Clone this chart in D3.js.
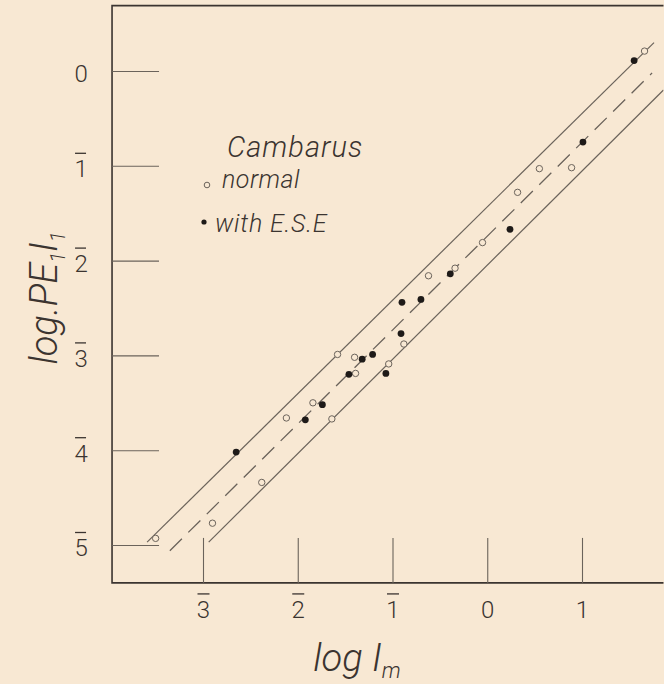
<!DOCTYPE html>
<html><head><meta charset="utf-8">
<script src="https://cdn.jsdelivr.net/npm/d3@7"></script>
<style>
body{margin:0;background:#f8e8d3;}
svg{display:block;}
</style>
</head><body>
<svg id="c" width="664" height="684"></svg>
<script>
// tick values (negative characteristics drawn with bar notation)
const yTicks = [0, -1, -2, -3, -4, -5];
const xTicks = [-3, -2, -1, 0, 1];

// "normal" (open circles)
const normalX = [-3.50, -2.90, -2.38, -2.12, -1.84, -1.64, -1.58, -1.40, -1.39, -1.04, -0.88, -0.62, -0.34, -0.05, 0.32, 0.55, 0.89, 1.66];
const normalY = [-4.93, -4.77, -4.34, -3.66, -3.50, -3.67, -2.99, -3.02, -3.19, -3.09, -2.88, -2.16, -2.08, -1.81, -1.28, -1.03, -1.02, 0.21];

// "with E.S.E" (filled circles)
const eseX = [-2.65, -1.92, -1.74, -1.46, -1.32, -1.21, -1.07, -0.91, -0.90, -0.70, -0.39, 0.24, 1.01, 1.55];
const eseY = [-4.02, -3.68, -3.52, -3.20, -3.04, -2.99, -3.19, -2.77, -2.44, -2.41, -2.14, -1.67, -0.75, 0.11];

// fitted lines (end points in data units)
const upperLine  = [[-3.59, -4.97], [1.76, 0.30]];
const middleLine = [[-3.35, -5.06], [1.74, -0.02]];
const lowerLine  = [[-2.94, -4.97], [1.86, -0.20]];

// plot frame extent in data units
const xExtent = [-3.96, 1.86];
const yExtent = [-5.40, 0.69];

const svg = d3.select('#c');
const x = d3.scaleLinear().domain([-3, 1]).range([203, 582]);
const y = d3.scaleLinear().domain([0, -5]).range([71, 545]);

const ink = '#3b3430';
const lineInk = '#6b635b';
const font = 'Roboto, "DejaVu Sans", sans-serif';

const fmt = v => String(Math.abs(v));

// frame
const x0 = x(xExtent[0]), x1 = x(xExtent[1]);
const yT = y(yExtent[1]), yB = y(yExtent[0]);
svg.append('path')
  .attr('d', `M${x1},${yT}L${x0},${yT}L${x0},${yB}L${x1},${yB}`)
  .attr('fill', 'none').attr('stroke', ink).attr('stroke-width', 1.6);

// y axis
const gy = svg.append('g').attr('transform', `translate(${x0},0)`)
  .call(d3.axisLeft(y).tickValues(yTicks).tickSizeInner(-47).tickSizeOuter(0).tickPadding(31).tickFormat(fmt));
gy.select('.domain').remove();
gy.selectAll('.tick line').attr('stroke', lineInk).attr('stroke-width', 1.1);
gy.selectAll('.tick text').attr('text-anchor', 'middle').attr('x', -31).attr('dy', '0.45em')
  .attr('font-family', font).attr('font-size', 24).attr('font-weight', 300).attr('fill', ink);
gy.selectAll('.tick').filter(d => d < 0).append('line')
  .attr('x1', -37).attr('x2', -26).attr('y1', -13).attr('y2', -13)
  .attr('stroke', ink).attr('stroke-width', 1.3);

// x axis
const gx = svg.append('g').attr('transform', `translate(0,${yB})`)
  .call(d3.axisBottom(x).tickValues(xTicks).tickSizeInner(-45).tickSizeOuter(0).tickPadding(18).tickFormat(fmt));
gx.select('.domain').remove();
gx.selectAll('.tick line').attr('stroke', lineInk).attr('stroke-width', 1.1);
gx.selectAll('.tick text')
  .attr('font-family', font).attr('font-size', 24).attr('font-weight', 300).attr('fill', ink);
gx.selectAll('.tick').filter(d => d < 0).append('line')
  .attr('x1', -6).attr('x2', 6).attr('y1', 11).attr('y2', 11)
  .attr('stroke', ink).attr('stroke-width', 1.3);

// fitted lines
const line = d3.line().x(d => x(d[0])).y(d => y(d[1]));
svg.append('defs').append('clipPath').attr('id', 'clip')
  .append('rect').attr('x', x0).attr('y', yT).attr('width', x1 - x0).attr('height', yB - yT);
const gl = svg.append('g').attr('clip-path', 'url(#clip)');
[upperLine, lowerLine].forEach(l => gl.append('path').attr('d', line(l))
  .attr('fill', 'none').attr('stroke', lineInk).attr('stroke-width', 1.2));
gl.append('path').attr('d', line(middleLine))
  .attr('fill', 'none').attr('stroke', lineInk).attr('stroke-width', 1.3)
  .attr('stroke-dasharray', '17,9');

// points
const normal = normalX.map((v, i) => [v, normalY[i]]);
const ese = eseX.map((v, i) => [v, eseY[i]]);
svg.append('g').selectAll('circle').data(normal).join('circle')
  .attr('cx', d => x(d[0])).attr('cy', d => y(d[1])).attr('r', 3.2)
  .attr('fill', '#f8e8d3').attr('stroke', '#6b635b').attr('stroke-width', 1);
svg.append('g').selectAll('circle').data(ese).join('circle')
  .attr('cx', d => x(d[0])).attr('cy', d => y(d[1])).attr('r', 3.4)
  .attr('fill', '#1e1a18');

// legend
const lg = svg.append('g').attr('font-family', font).attr('font-style', 'italic')
  .attr('font-weight', 300).attr('fill', ink);
lg.append('text').attr('x', 227).attr('y', 157).attr('font-size', 29).attr('letter-spacing', 1).text('Cambarus');
lg.append('circle').attr('cx', 207).attr('cy', 185).attr('r', 2.8)
  .attr('fill', 'none').attr('stroke', '#6b635b').attr('stroke-width', 1);
lg.append('text').attr('x', 222).attr('y', 188).attr('font-size', 25).attr('letter-spacing', 0.5).text('normal');
lg.append('circle').attr('cx', 204).attr('cy', 222).attr('r', 2.6).attr('fill', '#1e1a18');
lg.append('text').attr('x', 215).attr('y', 232).attr('font-size', 25).attr('letter-spacing', 0.8).text('with E.S.E');

// axis titles
const yt = svg.append('text').attr('transform', 'translate(57,298) rotate(-90)')
  .attr('text-anchor', 'middle').attr('font-family', font).attr('font-style', 'italic')
  .attr('font-weight', 300).attr('font-size', 38).attr('fill', ink);
yt.append('tspan').text('log.PE');
yt.append('tspan').attr('font-size', 20).attr('dy', 8).text('1');
yt.append('tspan').attr('dy', -8).text('I');
yt.append('tspan').attr('font-size', 20).attr('dy', 8).text('1');

const xt = svg.append('text').attr('x', 357).attr('y', 671)
  .attr('text-anchor', 'middle').attr('font-family', font).attr('font-style', 'italic')
  .attr('font-weight', 300).attr('font-size', 38).attr('fill', ink);
xt.append('tspan').text('log I');
xt.append('tspan').attr('font-size', 22).attr('dy', 7).text('m');
</script>
</body></html>
